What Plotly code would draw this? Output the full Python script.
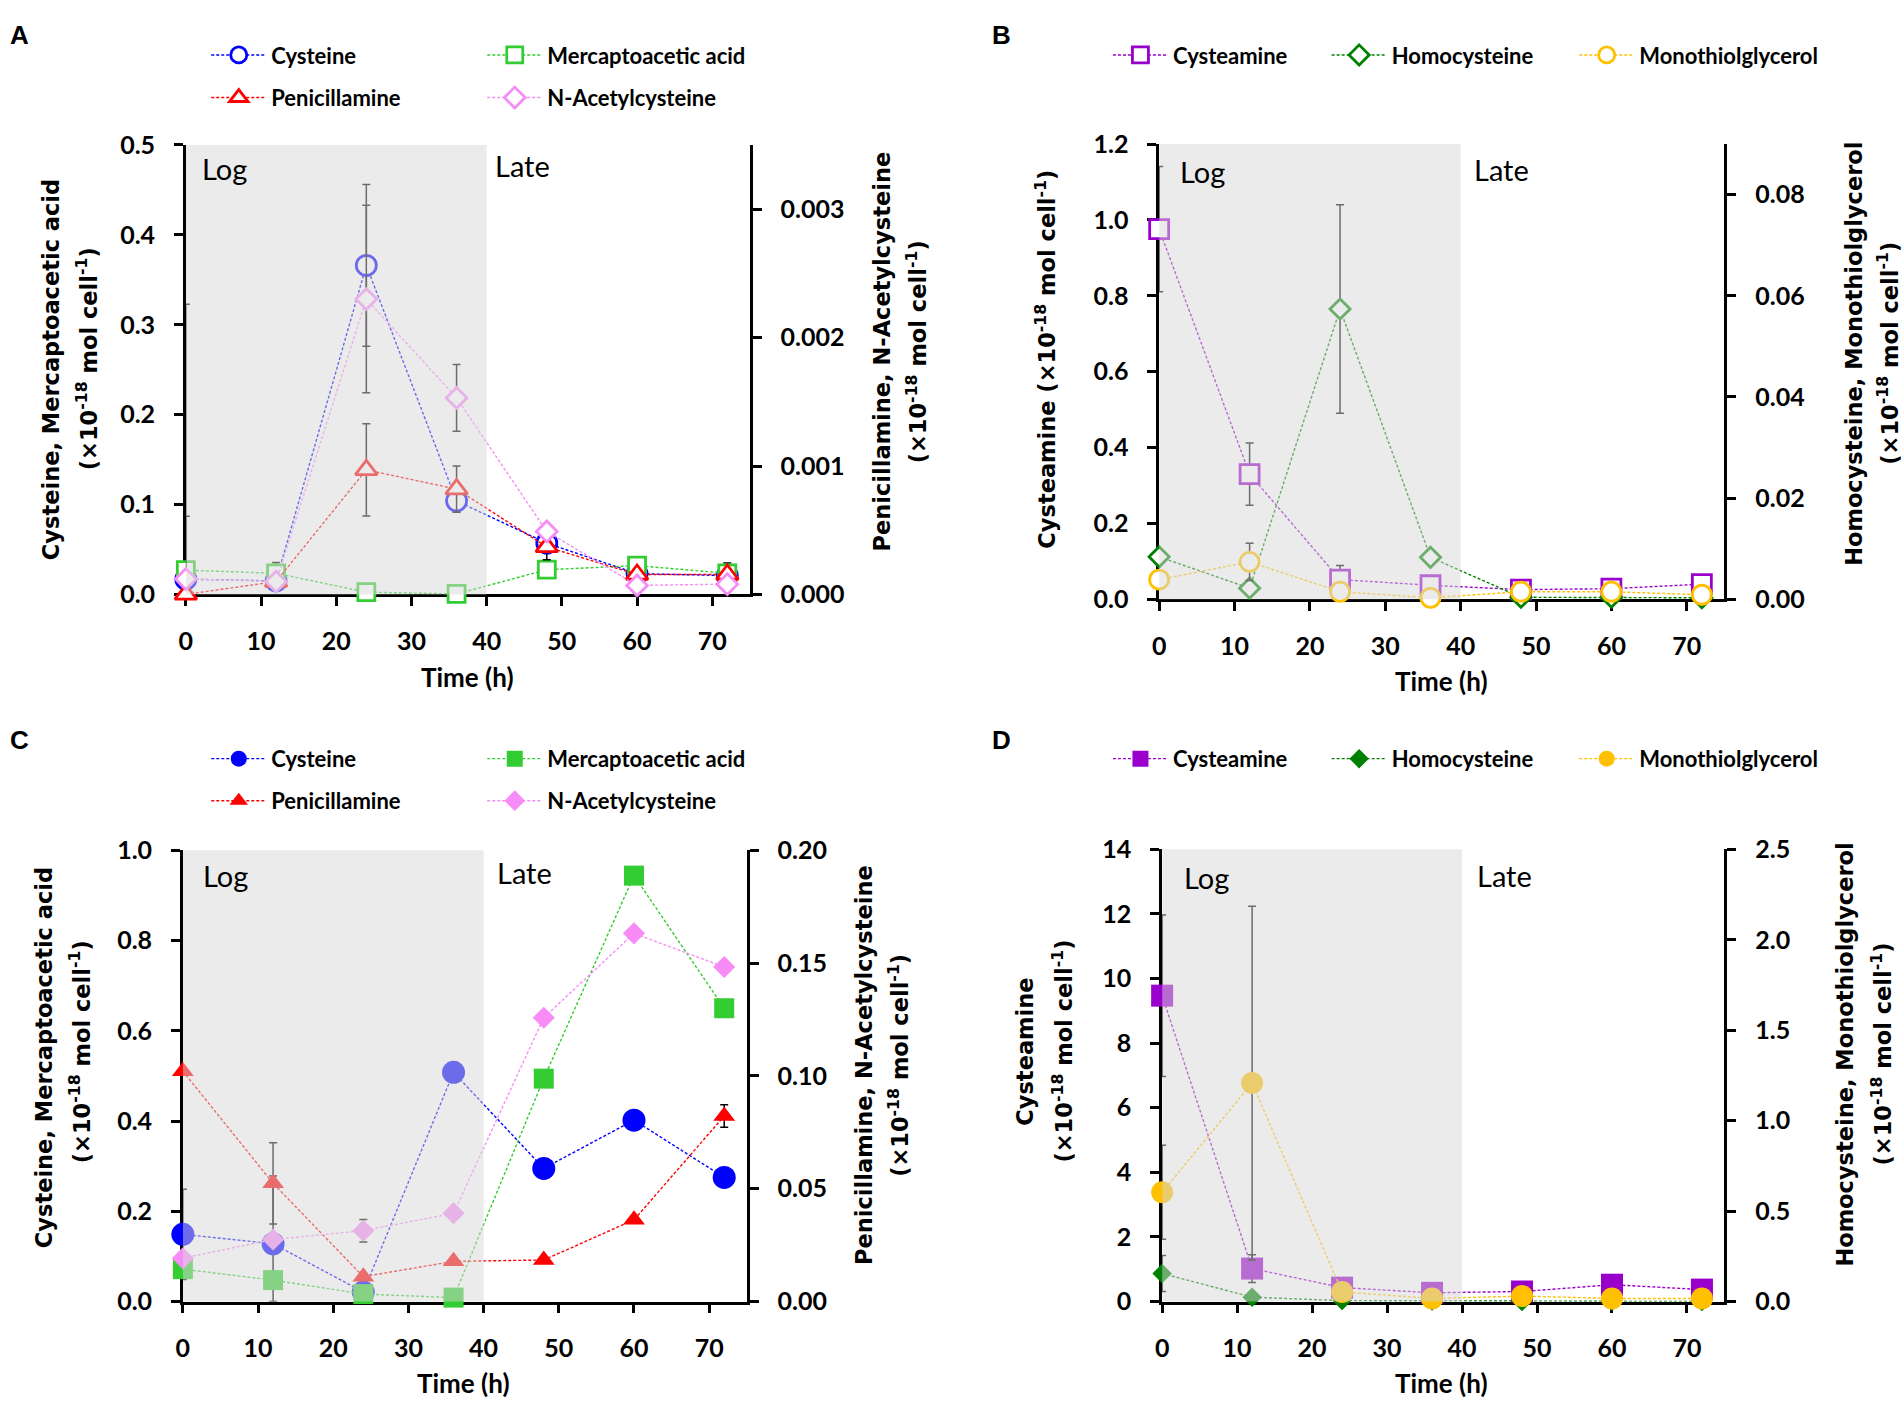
import plotly.graph_objects as go

# ---------------- data ----------------
time_h = [0, 12, 24, 36, 48, 60, 72]
x_ticks = [0, 10, 20, 30, 40, 50, 60, 70]

# Panel A (open markers)
a_cysteine = [0.017, 0.015, 0.366, 0.104, 0.057, 0.023, 0.021]
a_cysteine_err = [0.07, 0.0, 0.09, 0.012, 0.004, 0.004, 0.014]
a_mercapto = [0.027, 0.0235, 0.0025, 0.0005, 0.0275, 0.032, 0.0235]
a_mercapto_err = [0.0, 0.012, 0.0, 0.0, 0.004, 0.0, 0.004]
a_penicill = [0.0, 0.0001, 0.00097, 0.00082, 0.00037, 0.000155, 0.000155]
a_penicill_err = [0.00226, 0.0, 0.00036, 0.00018, 0.0001, 0.00004, 0.00004]
a_nac = [0.00012, 0.0001, 0.0023, 0.00153, 0.00049, 0.00007, 0.00008]
a_nac_err = [0.0, 0.0, 0.00073, 0.00026, 0.00003, 0.0, 0.0]

# Panel B (open markers)
b_cysteamine = [0.976, 0.330, 0.052, 0.037, 0.0255, 0.028, 0.040]
b_cysteamine_err = [0.165, 0.082, 0.037, 0.0, 0.0, 0.0, 0.0]
b_homocys = [0.0084, 0.0022, 0.0574, 0.0083, 0.0004, 0.0004, 0.0003]
b_homocys_err = [0.0, 0.0, 0.0206, 0.0, 0.0, 0.0, 0.0]
b_mtg = [0.0039, 0.0074, 0.0015, 0.0003, 0.0015, 0.0015, 0.0009]
b_mtg_err = [0.0, 0.0037, 0.0, 0.0, 0.0, 0.0, 0.0]

# Panel C (filled markers)
c_cysteine = [0.149, 0.128, 0.021, 0.508, 0.295, 0.402, 0.275]
c_cysteine_err = [0.1, 0.15, 0.0, 0.0, 0.0, 0.0, 0.0]
c_mercapto = [0.0717, 0.0475, 0.0165, 0.0087, 0.494, 0.944, 0.650]
c_mercapto_err = [0.0, 0.0, 0.0, 0.0, 0.0, 0.0, 0.0]
c_penicill = [0.1021, 0.0524, 0.011, 0.0178, 0.0184, 0.0362, 0.0822]
c_penicill_err = [0.0, 0.018, 0.0, 0.0, 0.0, 0.0, 0.005]
c_nac = [0.0192, 0.0275, 0.0314, 0.0391, 0.1258, 0.1632, 0.1483]
c_nac_err = [0.0, 0.0, 0.005, 0.0, 0.0, 0.0, 0.0]

# Panel D (filled markers)
d_cysteamine = [9.47, 1.02, 0.43, 0.27, 0.31, 0.52, 0.37]
d_cysteamine_err = [2.5, 0.43, 0.0, 0.0, 0.0, 0.0, 0.0]
d_homocys = [0.155, 0.024, 0.005, 0.003, 0.0, 0.002, 0.0]
d_homocys_err = [0.1, 0.0, 0.0, 0.0, 0.0, 0.0, 0.0]
d_mtg = [0.604, 1.208, 0.053, 0.017, 0.03, 0.017, 0.017]
d_mtg_err = [0.26, 0.978, 0.0, 0.0, 0.0, 0.0, 0.0]

# ---------------- styling ----------------
W, H = 1904, 1408
C_CYS = "#0000FF"
C_MER = "#33CC33"
C_PEN = "#FF0000"
C_NAC = "#F78CF7"
C_CYA = "#9900CC"
C_HCY = "#008000"
C_MTG = "#FFC000"

TICK_FONT = dict(family="Lato", size=25, color="black", weight="bold")
LEG_FONT = dict(family="Lato", size=22, color="black", weight="bold")
TITLE_FONT = dict(family="DejaVu Sans", size=22.5, color="black", weight="bold")


def px_x(p):
    return p / W


def px_y(p):
    return 1 - p / H


fig = go.Figure()
legend_layouts = {}
leg_counter = [0]


def add_series(name, y, err, color, symbol, size, xa, ya, open_marker, leg_x, leg_y):
    leg_counter[0] += 1
    lname = "legend" if leg_counter[0] == 1 else f"legend{leg_counter[0]}"
    minus = [min(v, e) for v, e in zip(y, err)]
    if open_marker:
        marker = dict(symbol=symbol, size=size, color="white",
                      line=dict(color=color, width=2.8))
    else:
        marker = dict(symbol=symbol, size=size, color=color,
                      line=dict(color=color, width=0))
    fig.add_trace(go.Scatter(
        x=time_h, y=y, name=name, mode="lines+markers",
        xaxis=xa, yaxis=ya, legend=lname, cliponaxis=False, showlegend=True,
        line=dict(color=color, width=1.4, dash="3px,2px"),
        marker=marker,
        error_y=dict(type="data", array=err, arrayminus=minus, symmetric=False,
                     color="black", thickness=1.5, width=4),
    ))
    legend_layouts[lname] = dict(
        x=px_x(leg_x - 7), xanchor="left", y=px_y(leg_y), yanchor="middle",
        orientation="h", bgcolor="rgba(0,0,0,0)", borderwidth=0, visible=True,
        itemwidth=55, font=LEG_FONT, itemclick=False, itemdoubleclick=False,
    )


COL1, COL2 = 207, 484
B1, B2, B3 = 1112, 1331.5, 1580

# Panel A
add_series("Cysteine", a_cysteine, a_cysteine_err, C_CYS, "circle", 20, "x", "y", True, COL1, 40)
add_series("Mercaptoacetic acid", a_mercapto, a_mercapto_err, C_MER, "square", 17, "x", "y", True, COL2, 40)
add_series("Penicillamine", a_penicill, a_penicill_err, C_PEN, "triangle-up", 19, "x", "y2", True, COL1, 83.5)
add_series("N-Acetylcysteine", a_nac, a_nac_err, C_NAC, "diamond", 16, "x", "y2", True, COL2, 83.5)
# Panel B
add_series("Cysteamine", b_cysteamine, b_cysteamine_err, C_CYA, "square", 19, "x2", "y3", True, B1, 40)
add_series("Homocysteine", b_homocys, b_homocys_err, C_HCY, "diamond", 15.5, "x2", "y4", True, B2, 40)
add_series("Monothiolglycerol", b_mtg, b_mtg_err, C_MTG, "circle", 19, "x2", "y4", True, B3, 40)
# Panel C
add_series("Cysteine", c_cysteine, c_cysteine_err, C_CYS, "circle", 23, "x3", "y5", False, COL1, 759)
add_series("Mercaptoacetic acid", c_mercapto, c_mercapto_err, C_MER, "square", 20, "x3", "y5", False, COL2, 759)
add_series("Penicillamine", c_penicill, c_penicill_err, C_PEN, "triangle-up", 19, "x3", "y6", False, COL1, 802)
add_series("N-Acetylcysteine", c_nac, c_nac_err, C_NAC, "diamond", 17, "x3", "y6", False, COL2, 802)
# Panel D
add_series("Cysteamine", d_cysteamine, d_cysteamine_err, C_CYA, "square", 22, "x4", "y7", False, B1, 759)
add_series("Homocysteine", d_homocys, d_homocys_err, C_HCY, "diamond", 15, "x4", "y8", False, B2, 759)
add_series("Monothiolglycerol", d_mtg, d_mtg_err, C_MTG, "circle", 22, "x4", "y8", False, B3, 759)

# ---------------- axes ----------------
AX = dict(showline=True, linecolor="black", linewidth=2.5, ticks="outside",
          ticklen=9, tickwidth=2.5, tickcolor="black", showgrid=False,
          zeroline=False, tickfont=TICK_FONT, layer="below traces",
          ticklabelstandoff=14, fixedrange=True)

panels = {
    # name: (xdomain px, ydomain px, left range, left dtick, left fmt, right range, right dtick, right fmt)
    "A": ((179.5, 745.6), (131.8, 591), [0, 0.5], 0.1, ".1f", [0, 0.0035], 0.001, ".3f"),
    "B": ((1156.4, 1723.8), (130.9, 596), [0, 1.2], 0.2, ".1f", [0, 0.09], 0.02, ".2f"),
    "C": ((176.5, 742.5), (852.5, 1313.5), [0, 1.0], 0.2, ".1f", [0, 0.2], 0.05, ".2f"),
    "D": ((1159.4, 1723.8), (851.5, 1313.5), [0, 14], 2, "d", [0, 2.5], 0.5, ".1f"),
}

layout_axes = {}
shapes = []
for i, key in enumerate(["A", "B", "C", "D"]):
    (x0, x1), (yt, yb), lr, ld, lf, rr, rd, rf = panels[key]
    xname = "xaxis" if i == 0 else f"xaxis{i + 1}"
    xref = "x" if i == 0 else f"x{i + 1}"
    yl = 2 * i + 1
    yr = 2 * i + 2
    ylname = "yaxis" if yl == 1 else f"yaxis{yl}"
    yrname = f"yaxis{yr}"
    ylref = "y" if yl == 1 else f"y{yl}"
    layout_axes[xname] = dict(AX, domain=[px_x(x0), px_x(x1)], range=[0, 75],
                              tickvals=x_ticks, anchor=ylref)
    layout_axes[ylname] = dict(AX, domain=[px_y(yb), px_y(yt)], range=lr, dtick=ld,
                               tick0=0, tickformat=lf, anchor=xref)
    layout_axes[yrname] = dict(AX, range=rr, dtick=rd, tick0=0, tickformat=rf,
                               overlaying=ylref, side="right", anchor=xref)
    shapes.append(dict(type="rect", xref=xref, yref=f"{ylref} domain", x0=0, x1=40,
                       y0=0, y1=1, fillcolor="rgb(216,216,216)", opacity=0.5,
                       line=dict(width=0), layer="above"))

# ---------------- annotations ----------------
annotations = []


def ann(text, xp, yp, font, angle=0, xanchor="center", yanchor="middle"):
    annotations.append(dict(text=text, x=px_x(xp), y=px_y(yp), xref="paper", yref="paper",
                            showarrow=False, textangle=angle, font=font,
                            xanchor=xanchor, yanchor=yanchor))


UNIT = "(×10<sup>-18</sup> mol cell<sup>-1</sup>)"
LET_FONT = dict(family="Liberation Sans", size=26, color="black", weight="bold")
LOG_FONT = dict(family="Lato", size=29, color="black")
TIME_FONT = dict(family="Lato", size=26, color="black", weight="bold")

# panel letters
ann("A", 1, 19, LET_FONT, xanchor="left")
ann("B", 987, 19, LET_FONT, xanchor="left")
ann("C", 1, 740, LET_FONT, xanchor="left")
ann("D", 987, 740, LET_FONT, xanchor="left")

# Log / Late
for (lx, ly), (tx, ty) in [((194, 156), (488, 153)), ((1175, 159), (1470.6, 157)),
                           ((195, 878), (490, 875)), ((1179.6, 880), (1473.7, 878))]:
    ann("Log", lx, ly, LOG_FONT, xanchor="left")
    ann("Late", tx, ty, LOG_FONT, xanchor="left")

# x titles
for xp, yp in [(462, 675), (1440, 679), (458, 1397), (1440, 1397)]:
    ann("Time (h)", xp, yp, TIME_FONT)

# y titles
ann("Cysteine, Mercaptoacetic acid", 44, 361, TITLE_FONT, -90)
ann(UNIT, 80, 350, TITLE_FONT, -90)
ann("Penicillamine, N-Acetylcysteine", 878, 343, TITLE_FONT, -90)
ann(UNIT, 913, 343, TITLE_FONT, -90)

ann("Cysteamine " + UNIT, 1042, 351, TITLE_FONT, -90)
ann("Homocysteine, Monothiolglycerol", 1853, 345, TITLE_FONT, -90)
ann(UNIT, 1888, 345, TITLE_FONT, -90)

ann("Cysteine, Mercaptoacetic acid", 37, 1064, TITLE_FONT, -90)
ann(UNIT, 73, 1058, TITLE_FONT, -90)
ann("Penicillamine, N-Acetylcysteine", 860, 1072, TITLE_FONT, -90)
ann(UNIT, 894, 1072, TITLE_FONT, -90)

ann("Cysteamine", 1022, 1058, TITLE_FONT, -90)
ann(UNIT, 1059, 1058, TITLE_FONT, -90)
ann("Homocysteine, Monothiolglycerol", 1845, 1061, TITLE_FONT, -90)
ann(UNIT, 1881, 1061, TITLE_FONT, -90)

fig.update_layout(
    width=W, height=H, autosize=False, showlegend=True,
    margin=dict(l=0, r=0, t=0, b=0, pad=0),
    paper_bgcolor="white", plot_bgcolor="white",
    shapes=shapes, annotations=annotations,
    **layout_axes, **legend_layouts,
)

fig.write_html("out.html", config={"displayModeBar": False},
               post_script="document.body.style.margin='0';document.body.style.overflow='hidden';")
